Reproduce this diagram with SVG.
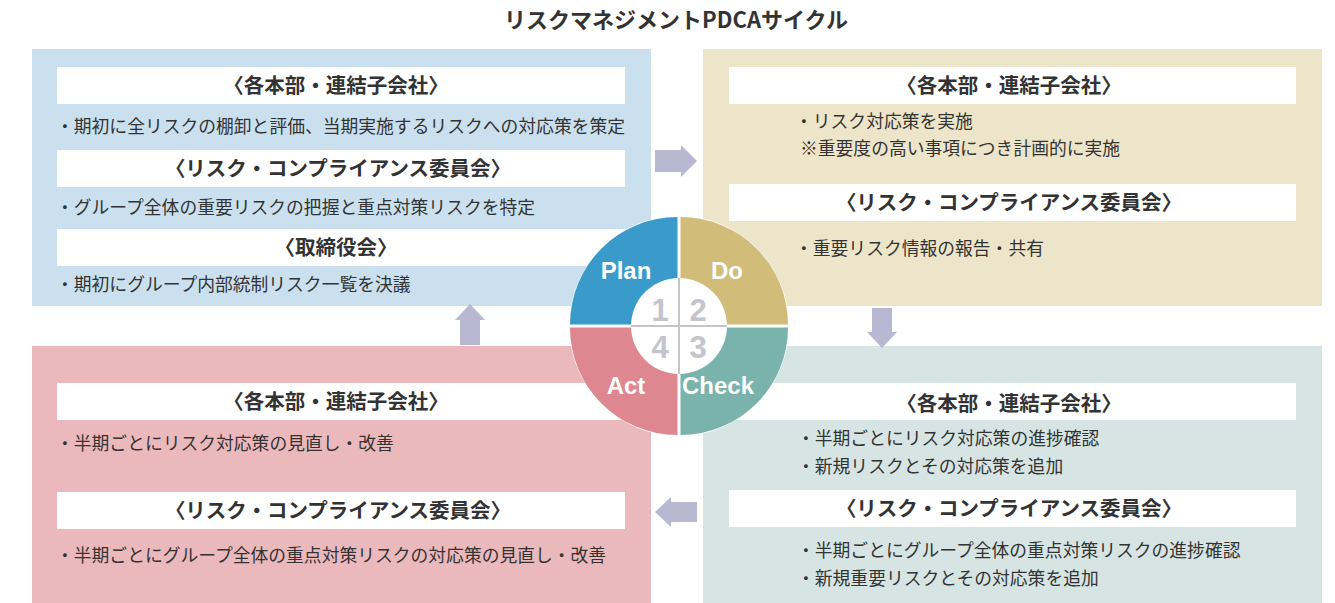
<svg xmlns="http://www.w3.org/2000/svg" width="1335" height="603" viewBox="0 0 1335 603">
<style>
.t{font-family:"Noto Sans CJK JP","Noto Sans",sans-serif;fill:#333}
.h{font-size:20.5px;font-weight:bold;text-anchor:middle}
.b{font-size:17.8px}
.hb{fill:#fff}
.arr{fill:#b9b8d3}
.lab{font-family:"Liberation Sans",Arial,sans-serif;font-weight:bold;font-size:24px;fill:#fff;text-anchor:middle}
.num{font-family:"Liberation Sans",Arial,sans-serif;font-weight:bold;font-size:31px;fill:#c4c4cc;text-anchor:middle}
</style>
<rect width="1335" height="603" fill="#fff"/>
<text class="t" x="676" y="28" font-size="22" font-weight="bold" text-anchor="middle" fill="#222">リスクマネジメントPDCAサイクル</text>

<g id="plan">
<rect x="32" y="49" width="619" height="257" fill="#cae0ee"/>
<rect class="hb" x="57" y="67" width="568" height="37"/>
<text class="t h" x="336" y="93">〈各本部・連結子会社〉</text>
<text class="t b" x="56" y="133">・期初に全リスクの棚卸と評価、当期実施するリスクへの対応策を策定</text>
<rect class="hb" x="57" y="150" width="568" height="37"/>
<text class="t h" x="338" y="176">〈リスク・コンプライアンス委員会〉</text>
<text class="t b" x="56" y="214">・グループ全体の重要リスクの把握と重点対策リスクを特定</text>
<rect class="hb" x="57" y="229" width="568" height="37"/>
<text class="t h" x="336" y="255">〈取締役会〉</text>
<text class="t b" x="56" y="291">・期初にグループ内部統制リスク一覧を決議</text>
</g>

<g id="do">
<rect x="703" y="49" width="619" height="257" fill="#ede5c9"/>
<rect class="hb" x="729" y="67" width="567" height="37"/>
<text class="t h" x="1009" y="93">〈各本部・連結子会社〉</text>
<text class="t b" x="795" y="128">・リスク対応策を実施</text>
<text class="t b" x="800" y="155">※重要度の高い事項につき計画的に実施</text>
<rect class="hb" x="729" y="184" width="567" height="37"/>
<text class="t h" x="1009" y="210">〈リスク・コンプライアンス委員会〉</text>
<text class="t b" x="795" y="255">・重要リスク情報の報告・共有</text>
</g>

<g id="act">
<rect x="32" y="346" width="619" height="257" fill="#ebb9bc"/>
<rect class="hb" x="57" y="383" width="568" height="37"/>
<text class="t h" x="336" y="409">〈各本部・連結子会社〉</text>
<text class="t b" x="56" y="450">・半期ごとにリスク対応策の見直し・改善</text>
<rect class="hb" x="57" y="492" width="568" height="37"/>
<text class="t h" x="338" y="518">〈リスク・コンプライアンス委員会〉</text>
<text class="t b" x="56" y="562">・半期ごとにグループ全体の重点対策リスクの対応策の見直し・改善</text>
</g>

<g id="check">
<rect x="703" y="346" width="619" height="257" fill="#d6e5e3"/>
<rect class="hb" x="729" y="383" width="567" height="37"/>
<text class="t h" x="1009" y="411">〈各本部・連結子会社〉</text>
<text class="t b" x="797" y="445">・半期ごとにリスク対応策の進捗確認</text>
<text class="t b" x="797" y="473">・新規リスクとその対応策を追加</text>
<rect class="hb" x="729" y="490" width="567" height="37"/>
<text class="t h" x="1009" y="516">〈リスク・コンプライアンス委員会〉</text>
<text class="t b" x="797" y="557">・半期ごとにグループ全体の重点対策リスクの進捗確認</text>
<text class="t b" x="797" y="585">・新規重要リスクとその対応策を追加</text>
</g>

<g id="connectors">
<polygon class="arr" points="655,150 681,150 681,145 697,161 681,177 681,172 655,172"/>
<polygon class="arr" points="872,308 892,308 892,332 897,332 882,348 867,332 872,332"/>
<polygon class="arr" points="697,502 671,502 671,497 655,512 671,527 671,522 697,522"/>
<polygon class="arr" points="460,345 480,345 480,320 485,320 470,304 455,320 460,320"/>
</g>

<g id="cycle">
<circle cx="679" cy="326" r="110" fill="#fff"/>
<path d="M677.5,324.5 L677.5,217 A107.5,107.5 0 0 0 570,324.5 Z" fill="#3a9ac9"/>
<path d="M680.5,324.5 L680.5,217 A107.5,107.5 0 0 1 788,324.5 Z" fill="#d1bc79"/>
<path d="M680.5,327.5 L788,327.5 A107.5,107.5 0 0 1 680.5,435 Z" fill="#7ab3ab"/>
<path d="M677.5,327.5 L570,327.5 A107.5,107.5 0 0 0 677.5,435 Z" fill="#de8790"/>
<circle cx="679" cy="326" r="48" fill="#fff"/>
<line x1="679" y1="278" x2="679" y2="374" stroke="#c4c4cc" stroke-width="2"/>
<line x1="631" y1="326" x2="727" y2="326" stroke="#c4c4cc" stroke-width="2"/>
<text class="num" x="660" y="321">1</text>
<text class="num" x="698" y="321">2</text>
<text class="num" x="698" y="358">3</text>
<text class="num" x="660" y="358">4</text>
<text class="lab" x="626" y="279">Plan</text>
<text class="lab" x="727" y="279">Do</text>
<text class="lab" x="626" y="394">Act</text>
<text class="lab" x="718" y="394">Check</text>
</g>
</svg>
